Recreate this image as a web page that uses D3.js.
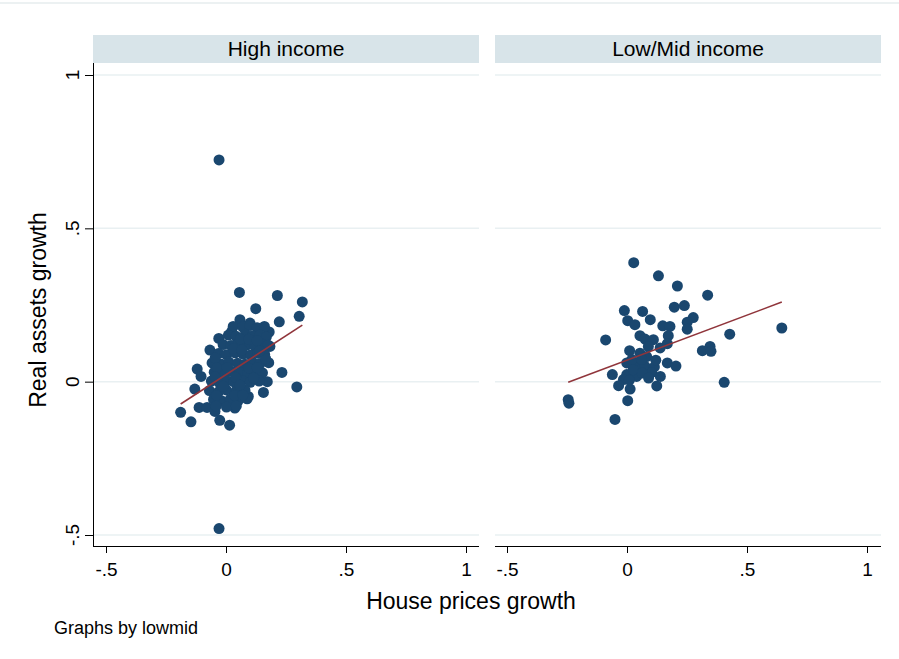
<!DOCTYPE html>
<html lang="en">
  <head>
    <meta charset="UTF-8" />
    <title>Real assets growth vs house prices growth</title>
    <script src="https://d3js.org/d3.v7.min.js"></script>
    <style>
      body { margin: 0; background: #fff; }
      text { font-family: "Liberation Sans", Arial, sans-serif; fill: #000; }
    </style>
  </head>
  <body>
    <svg id="chart" width="899" height="659"></svg>

    <script>
      // panel names
      const panels = ["High income", "Low/Mid income"];

      // High income: [house prices growth, real assets growth]
      const highIncome = [
        [-0.029, 0.723], [-0.029, -0.479],
        [0.056, 0.291], [0.214, 0.281], [0.318, 0.26], [0.124, 0.238],
        [0.305, 0.213], [0.058, 0.202], [0.222, 0.195], [-0.03, 0.141],
        [-0.067, 0.103], [-0.12, 0.041], [-0.104, 0.017], [-0.13, -0.024],
        [0.233, 0.03], [0.295, -0.017], [0.156, -0.035], [0.093, -0.048],
        [0.172, 0.0], [-0.189, -0.1], [-0.146, -0.131], [-0.112, -0.084],
        [-0.079, -0.084], [-0.046, -0.097], [-0.026, -0.126], [0.015, -0.142],
        [0.037, -0.086], [0.18, 0.162], [0.183, 0.115], [0.024, 0.164],
        [0.1, 0.191],
        [0.03, 0.18], [0.07, 0.178], [0.1, 0.183], [0.13, 0.176], [0.16, 0.18],
        [0.01, 0.152], [0.042, 0.148], [0.081, 0.155], [0.11, 0.149], [0.142, 0.152], [0.168, 0.146],
        [-0.012, 0.121], [0.021, 0.118], [0.052, 0.124], [0.088, 0.12], [0.12, 0.116], [0.151, 0.122], [0.176, 0.119],
        [-0.031, 0.092], [0.002, 0.088], [0.038, 0.094], [0.071, 0.09], [0.102, 0.087], [0.133, 0.093], [0.161, 0.089],
        [-0.058, 0.061], [-0.021, 0.058], [0.012, 0.064], [0.048, 0.06], [0.079, 0.057], [0.111, 0.063], [0.142, 0.059], [0.178, 0.062],
        [-0.049, 0.031], [-0.011, 0.028], [0.022, 0.034], [0.058, 0.03], [0.09, 0.027], [0.121, 0.033], [0.152, 0.029],
        [-0.061, 0.002], [-0.028, -0.003], [0.004, 0.003], [0.033, -0.001], [0.068, 0.004], [0.101, -0.002], [0.138, 0.002],
        [-0.069, -0.029], [-0.031, -0.033], [0.001, -0.027], [0.041, -0.031], [0.079, -0.028],
        [-0.052, -0.058], [-0.019, -0.062], [0.018, -0.057], [0.052, -0.061], [0.088, -0.056],
        [-0.041, -0.08], [0.002, -0.083], [0.043, -0.079],
        [0.06, 0.139], [0.095, 0.138], [0.13, 0.134], [-0.045, 0.078], [0.165, 0.075],
        [0.03, 0.108], [0.066, 0.104], [0.14, 0.1], [-0.038, 0.045], [0.005, 0.046],
        [0.095, 0.044], [0.13, 0.046], [-0.045, 0.015], [0.04, 0.014], [0.115, 0.012],
        [-0.012, -0.015], [0.058, -0.012], [-0.04, -0.045], [0.035, -0.045], [0.07, -0.044]
      ];

      // Low/Mid income: [house prices growth, real assets growth]
      const lowMidIncome = [
        [0.028, 0.388], [0.131, 0.345], [0.21, 0.312], [0.336, 0.282],
        [0.197, 0.243], [0.239, 0.248], [-0.011, 0.232], [0.065, 0.229],
        [0.003, 0.199], [0.033, 0.186], [0.097, 0.202], [0.276, 0.209],
        [0.251, 0.194], [0.251, 0.171], [0.149, 0.182], [0.179, 0.18],
        [-0.089, 0.136], [0.054, 0.15], [0.075, 0.139], [0.11, 0.137],
        [0.172, 0.15], [0.168, 0.124], [0.138, 0.11], [0.089, 0.115],
        [0.011, 0.101], [0.054, 0.093], [0.082, 0.082], [0.314, 0.101],
        [0.346, 0.115], [0.35, 0.099], [0.428, 0.155], [0.645, 0.175],
        [0.405, -0.002], [0.168, 0.061], [0.204, 0.051], [-0.001, 0.061],
        [0.04, 0.055], [0.075, 0.05], [0.114, 0.048], [-0.061, 0.023],
        [-0.001, 0.023], [0.04, 0.017], [0.103, 0.03], [0.139, 0.017],
        [-0.015, 0.007], [-0.035, -0.013], [0.013, -0.024], [0.124, -0.014],
        [-0.245, -0.059], [-0.242, -0.07], [0.003, -0.062], [-0.05, -0.123],
        [0.02, 0.072], [0.061, 0.072], [0.026, 0.039], [0.064, 0.028],
        [0.09, 0.012], [0.01, 0.005], [0.12, 0.07]
      ];

      // linear fits: [intercept, slope, xmin, xmax]
      const fitHigh = [0.023, 0.507, -0.189, 0.318];
      const fitLowMid = [0.07, 0.294, -0.245, 0.645];

      const xTicks = [-0.5, 0, 0.5, 1];
      const yTicks = [-0.5, 0, 0.5, 1];
      const tickLabel = (v) => (v === 0 ? "0" : v === 1 ? "1" : v < 0 ? "-.5" : ".5");

      const svg = d3.select("#chart");

      // faint outer frame line at the top
      svg.append("line")
        .attr("x1", 0).attr("x2", 899)
        .attr("y1", 3).attr("y2", 3)
        .attr("stroke", "#e6ecee").attr("stroke-width", 1.5);

      const yScale = d3.scaleLinear().domain([-0.5, 1]).range([535, 75]);
      const plotTop = 63;
      const plotBottom = 546;

      const panelBoxes = [
        { left: 93, right: 479, x0: 106 },
        { left: 495, right: 881, x0: 507 }
      ];
      const panelData = [highIncome, lowMidIncome];
      const panelFits = [fitHigh, fitLowMid];

      panels.forEach((name, i) => {
        const box = panelBoxes[i];
        const xScale = d3.scaleLinear().domain([-0.5, 1]).range([box.x0, box.x0 + 360]);
        const g = svg.append("g");

        // strip header
        g.append("rect")
          .attr("x", box.left).attr("y", 35)
          .attr("width", box.right - box.left).attr("height", 28)
          .attr("fill", "#d8e4e9");
        g.append("text")
          .attr("x", (box.left + box.right) / 2).attr("y", 48)
          .attr("text-anchor", "middle").attr("dominant-baseline", "central")
          .style("font-size", "21px")
          .text(name);

        // grid lines
        g.selectAll(".grid")
          .data(yTicks)
          .enter()
          .append("line")
          .attr("x1", box.left).attr("x2", box.right)
          .attr("y1", (d) => yScale(d)).attr("y2", (d) => yScale(d))
          .attr("stroke", "#e9f0f2").attr("stroke-width", 1.5);

        // x axis
        const xAxis = g.append("g")
          .attr("transform", `translate(0,${plotBottom})`)
          .call(d3.axisBottom(xScale).tickValues(xTicks).tickSize(7).tickPadding(10).tickFormat(tickLabel));
        xAxis.select(".domain").attr("d", `M${box.left},0.5H${box.right}`).attr("stroke", "#000");
        xAxis.selectAll("text").style("font-size", "19px").style("font-family", "Liberation Sans, Arial, sans-serif");

        // y axis only on the first panel
        if (i === 0) {
          const yAxis = g.append("g")
            .attr("transform", `translate(${box.left},0)`)
            .call(d3.axisLeft(yScale).tickValues(yTicks).tickSize(8).tickFormat(""));
          yAxis.select(".domain").attr("d", `M0.5,${plotTop}V${plotBottom}`).attr("stroke", "#000");
          g.selectAll(".ylab")
            .data(yTicks)
            .enter()
            .append("text")
            .attr("transform", (d) => `translate(72,${yScale(d)}) rotate(-90)`)
            .attr("text-anchor", "middle").attr("dominant-baseline", "central")
            .style("font-size", "19px")
            .text(tickLabel);
        }

        // points
        g.selectAll("circle")
          .data(panelData[i])
          .enter()
          .append("circle")
          .attr("cx", (d) => xScale(d[0]))
          .attr("cy", (d) => yScale(d[1]))
          .attr("r", 5.5)
          .attr("fill", "#1a476f");

        // fitted line
        const f = panelFits[i];
        const line = d3.line().x((d) => xScale(d)).y((d) => yScale(f[0] + f[1] * d));
        g.append("path")
          .datum([f[2], f[3]])
          .attr("d", line)
          .attr("fill", "none")
          .attr("stroke", "#90353b")
          .attr("stroke-width", 1.6);
      });

      // axis titles
      svg.append("text")
        .attr("transform", "translate(38,310) rotate(-90)")
        .attr("text-anchor", "middle").attr("dominant-baseline", "central")
        .style("font-size", "23px")
        .text("Real assets growth");

      svg.append("text")
        .attr("x", 471).attr("y", 601)
        .attr("text-anchor", "middle").attr("dominant-baseline", "central")
        .style("font-size", "23px")
        .text("House prices growth");

      svg.append("text")
        .attr("x", 54).attr("y", 628)
        .attr("dominant-baseline", "central")
        .style("font-size", "18px")
        .text("Graphs by lowmid");
    </script>
  </body>
</html>
